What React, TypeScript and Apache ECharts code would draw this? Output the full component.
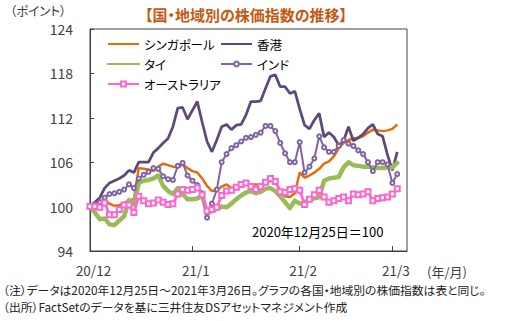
import React, { useEffect, useRef } from "react";
import * as echarts from "echarts";

// ---- data ----
const categories = Array.from({ length: 66 }, (_, i) => String(i));
const xTickIndex = [0, 21, 43, 62];
const xTickLabels = ["20/12", "21/1", "21/2", "21/3"];
const yMin = 94;
const yMax = 124;
const yStep = 6;

const seriesNames = ["シンガポール", "香港", "タイ", "インド", "オーストラリア"];

const singapore = [
  100, 100.2, 100.4, 100.9, 100.4, 100.1, 100.2, 100.5, 100.8, 101.0,
  105.2, 105.1, 105.0, 104.8, 105.4, 105.8, 105.6, 105.4, 105.3, 105.7,
  105.2, 104.8, 104.6, 103.8, 102.8, 102.1, 102.2, 102.7, 103.0, 102.5,
  102.8, 103.0, 103.0, 103.0, 103.0, 103.0, 103.2, 103.5, 103.3, 102.2,
  101.4, 101.3, 101.8, 104.6, 103.9, 104.2, 104.6, 105.1, 105.8, 106.1,
  106.8, 107.9, 108.6, 109.0, 109.2, 109.3, 109.5, 110.0, 110.4, 110.3,
  110.2, 110.3, 110.5, 111.1,
];

const hongkong = [
  100, 100.6, 101.2, 102.5, 103.2, 103.5, 103.8, 104.2, 104.9, 104.6,
  106.0, 106.0, 106.0, 107.3, 107.9, 108.6, 109.2, 110.8, 113.3, 113.4,
  111.8, 113.0, 114.2, 111.4, 108.8, 107.4, 109.0, 110.8, 111.1, 110.4,
  111.0, 111.1, 112.4, 114.2, 114.2, 114.3, 116.0, 117.6, 117.8, 116.2,
  116.2, 115.3, 115.6, 113.2, 111.0, 110.5, 111.7, 112.6, 109.4, 110.0,
  109.4, 108.3, 108.9, 110.8, 108.9, 109.3, 109.8, 110.6, 111.1, 109.8,
  109.5, 107.0, 104.9, 107.4,
];

const thailand = [
  100, 99.2, 98.3, 98.4, 97.6, 97.5, 98.1, 98.7, 100.9, 100.3,
  103.2, 103.5, 103.6, 103.8, 104.2, 102.8, 102.1, 101.7, 102.5, 101.7,
  101.0, 101.0, 101.1, 101.5, 99.1, 99.4, 99.7, 100.0, 99.9, 100.4,
  101.0, 101.5, 101.9, 102.1, 101.8, 102.0, 102.4, 102.5, 102.1, 101.4,
  100.6, 99.8, 100.8, 100.4, 100.6, 100.9, 101.1, 101.3, 103.5, 103.8,
  103.9, 104.0, 105.3, 106.0, 105.6, 105.5, 105.4, 105.4, 105.3, 105.2,
  105.2, 105.3, 105.3, 105.9,
];

const india = [
  100, 100.3, 100.6, 101.2, 101.7, 101.8, 102.0, 102.3, 103.0, 102.5,
  103.8, 104.3, 104.7, 105.2, 105.1, 104.1, 103.7, 103.6, 105.5, 105.9,
  104.2, 103.5, 102.9, 101.8, 98.5, 100.4, 102.3, 106.0, 107.1, 107.9,
  108.3, 108.8, 109.3, 109.4, 109.7, 110.0, 110.9, 110.9, 110.2, 108.6,
  107.2, 106.0, 106.0, 108.7, 104.6, 105.4, 106.5, 109.5, 108.0, 107.4,
  107.4, 108.2, 109.0, 108.5, 108.2, 107.6, 107.1, 106.0, 104.8, 106.0,
  106.0, 105.7, 103.2, 104.4,
];

const australia = [
  100, 100.0, 99.9, 100.5, 98.9, 98.9, 99.6, 100.2, 100.2, 99.2,
  101.4, 100.8, 100.4, 100.5, 100.9, 100.6, 100.3, 100.4, 101.7, 102.3,
  102.2, 102.3, 102.5, 101.6, 99.4, 99.6, 99.9, 101.5, 102.1, 102.2,
  102.6, 103.0, 103.2, 102.7, 102.3, 102.7, 103.3, 103.8, 103.4, 102.0,
  101.9, 102.3, 102.4, 102.2, 100.3, 101.0, 101.6, 102.2, 101.3, 100.6,
  100.8, 101.1, 101.3, 100.8, 101.7, 101.6, 101.7, 102.0, 100.8, 101.1,
  101.2, 101.3, 101.7, 102.4,
];

const colors = ["#E46C0A", "#5F497A", "#9BBB59", "#8064A2", "#FF66CC"];
const FONT = "'Noto Sans CJK JP', 'Noto Sans', sans-serif";

export default function App() {
  const ref = useRef<HTMLDivElement>(null);

  useEffect(() => {
    if (!ref.current) return;
    const styleEl = document.createElement("style");
    styleEl.textContent = 'svg text { font-feature-settings: "palt" 1 !important; }';
    document.head.appendChild(styleEl);

    const chart = echarts.init(ref.current, undefined, { renderer: "svg" });
    const tickSet = new Set(xTickIndex);
    const legendText = { fontFamily: FONT, fontSize: 12.5, color: "#000", lineHeight: 14 };
    const hideSym = { opacity: 0 };

    chart.setOption({
      animation: false,
      backgroundColor: "#fff",
      textStyle: { fontFamily: FONT },
      grid: {
        left: 90,
        top: 29,
        right: 101,
        bottom: 70,
        show: true,
        borderColor: "#404040",
        borderWidth: 1,
      },
      legend: [
        {
          left: 102,
          top: 32,
          orient: "vertical",
          itemWidth: 31,
          itemHeight: 6,
          itemGap: 6,
          data: [
            { name: seriesNames[0], itemStyle: hideSym },
            { name: seriesNames[2], itemStyle: hideSym },
            { name: seriesNames[4] },
          ],
          textStyle: legendText,
        },
        {
          left: 215,
          top: 32,
          orient: "vertical",
          itemWidth: 31,
          itemHeight: 6,
          itemGap: 6,
          data: [{ name: seriesNames[1], itemStyle: hideSym }, { name: seriesNames[3] }],
          textStyle: legendText,
        },
      ],
      xAxis: {
        type: "category",
        data: categories,
        boundaryGap: false,
        axisLine: { show: true, lineStyle: { color: "#404040", width: 1 } },
        axisTick: {
          show: true,
          inside: true,
          length: 5,
          interval: (index: number) => tickSet.has(index),
          lineStyle: { color: "#404040" },
        },
        axisLabel: {
          interval: (index: number) => tickSet.has(index),
          formatter: (_v: string, index: number) => {
            const k = xTickIndex.indexOf(index);
            return k >= 0 ? xTickLabels[k] : "";
          },
          color: "#404040",
          fontSize: 13.5,
          fontFamily: FONT,
          margin: 12,
          padding: [0, 0, 0, 7],
        },
        splitLine: { show: false },
      },
      yAxis: {
        type: "value",
        min: yMin,
        max: yMax,
        interval: yStep,
        axisLine: { show: true, lineStyle: { color: "#404040", width: 1 } },
        axisTick: { show: true, inside: true, length: 4, lineStyle: { color: "#404040" } },
        axisLabel: { color: "#404040", fontSize: 14, fontFamily: FONT, margin: 17 },
        splitLine: { show: false },
      },
      series: [
        {
          name: seriesNames[0],
          type: "line",
          data: singapore,
          symbol: "none",
          color: colors[0],
          lineStyle: { width: 2.5, color: colors[0] },
        },
        {
          name: seriesNames[1],
          type: "line",
          data: hongkong,
          symbol: "none",
          color: colors[1],
          lineStyle: { width: 2.75, color: colors[1] },
        },
        {
          name: seriesNames[2],
          type: "line",
          data: thailand,
          symbol: "none",
          color: colors[2],
          lineStyle: { width: 4.5, color: colors[2], cap: "round", join: "round" },
        },
        {
          name: seriesNames[3],
          type: "line",
          data: india,
          symbol: "emptyCircle",
          symbolSize: 4,
          showAllSymbol: true,
          color: colors[3],
          itemStyle: { color: colors[3], borderColor: colors[3], borderWidth: 1 },
          lineStyle: { width: 2, color: colors[3] },
        },
        {
          name: seriesNames[4],
          type: "line",
          data: australia,
          symbol: "emptyRect",
          symbolSize: 5,
          showAllSymbol: true,
          color: colors[4],
          itemStyle: { color: colors[4], borderColor: colors[4], borderWidth: 1.3 },
          lineStyle: { width: 2.75, color: colors[4] },
        },
      ],
      graphic: [
        {
          type: "text",
          left: 10,
          top: 4,
          style: { text: "（ポイント）", fontSize: 12.5, fill: "#404040", fontFamily: FONT },
        },
        {
          type: "text",
          x: 246,
          y: 14,
          style: {
            text: "【国・地域別の株価指数の推移】",
            fontSize: 15,
            fontWeight: "bold",
            fill: "#C65911",
            fontFamily: FONT,
            align: "center",
            verticalAlign: "middle",
          },
        },
        {
          type: "text",
          x: 252,
          y: 231,
          style: {
            text: "2020年12月25日＝100",
            fontSize: 13,
            fill: "#000",
            fontFamily: FONT,
            verticalAlign: "middle",
          },
        },
        {
          type: "text",
          x: 427,
          y: 271,
          style: {
            text: "(年/月)",
            fontSize: 13,
            fill: "#404040",
            fontFamily: FONT,
            verticalAlign: "middle",
          },
        },
        {
          type: "text",
          x: 3,
          y: 289.5,
          style: {
            text: "（注）データは2020年12月25日～2021年3月26日。グラフの各国・地域別の株価指数は表と同じ。",
            fontSize: 11.8,
            fill: "#222",
            fontFamily: FONT,
            verticalAlign: "middle",
          },
        },
        {
          type: "text",
          x: 3,
          y: 306.5,
          style: {
            text: "（出所）FactSetのデータを基に三井住友DSアセットマネジメント作成",
            fontSize: 11.8,
            fill: "#222",
            fontFamily: FONT,
            verticalAlign: "middle",
          },
        },
      ],
    });

    return () => {
      chart.dispose();
      styleEl.remove();
    };
  }, []);

  return (
    <div
      ref={ref}
      style={{ position: "fixed", left: 0, top: 0, width: 508, height: 321 }}
    />
  );
}
